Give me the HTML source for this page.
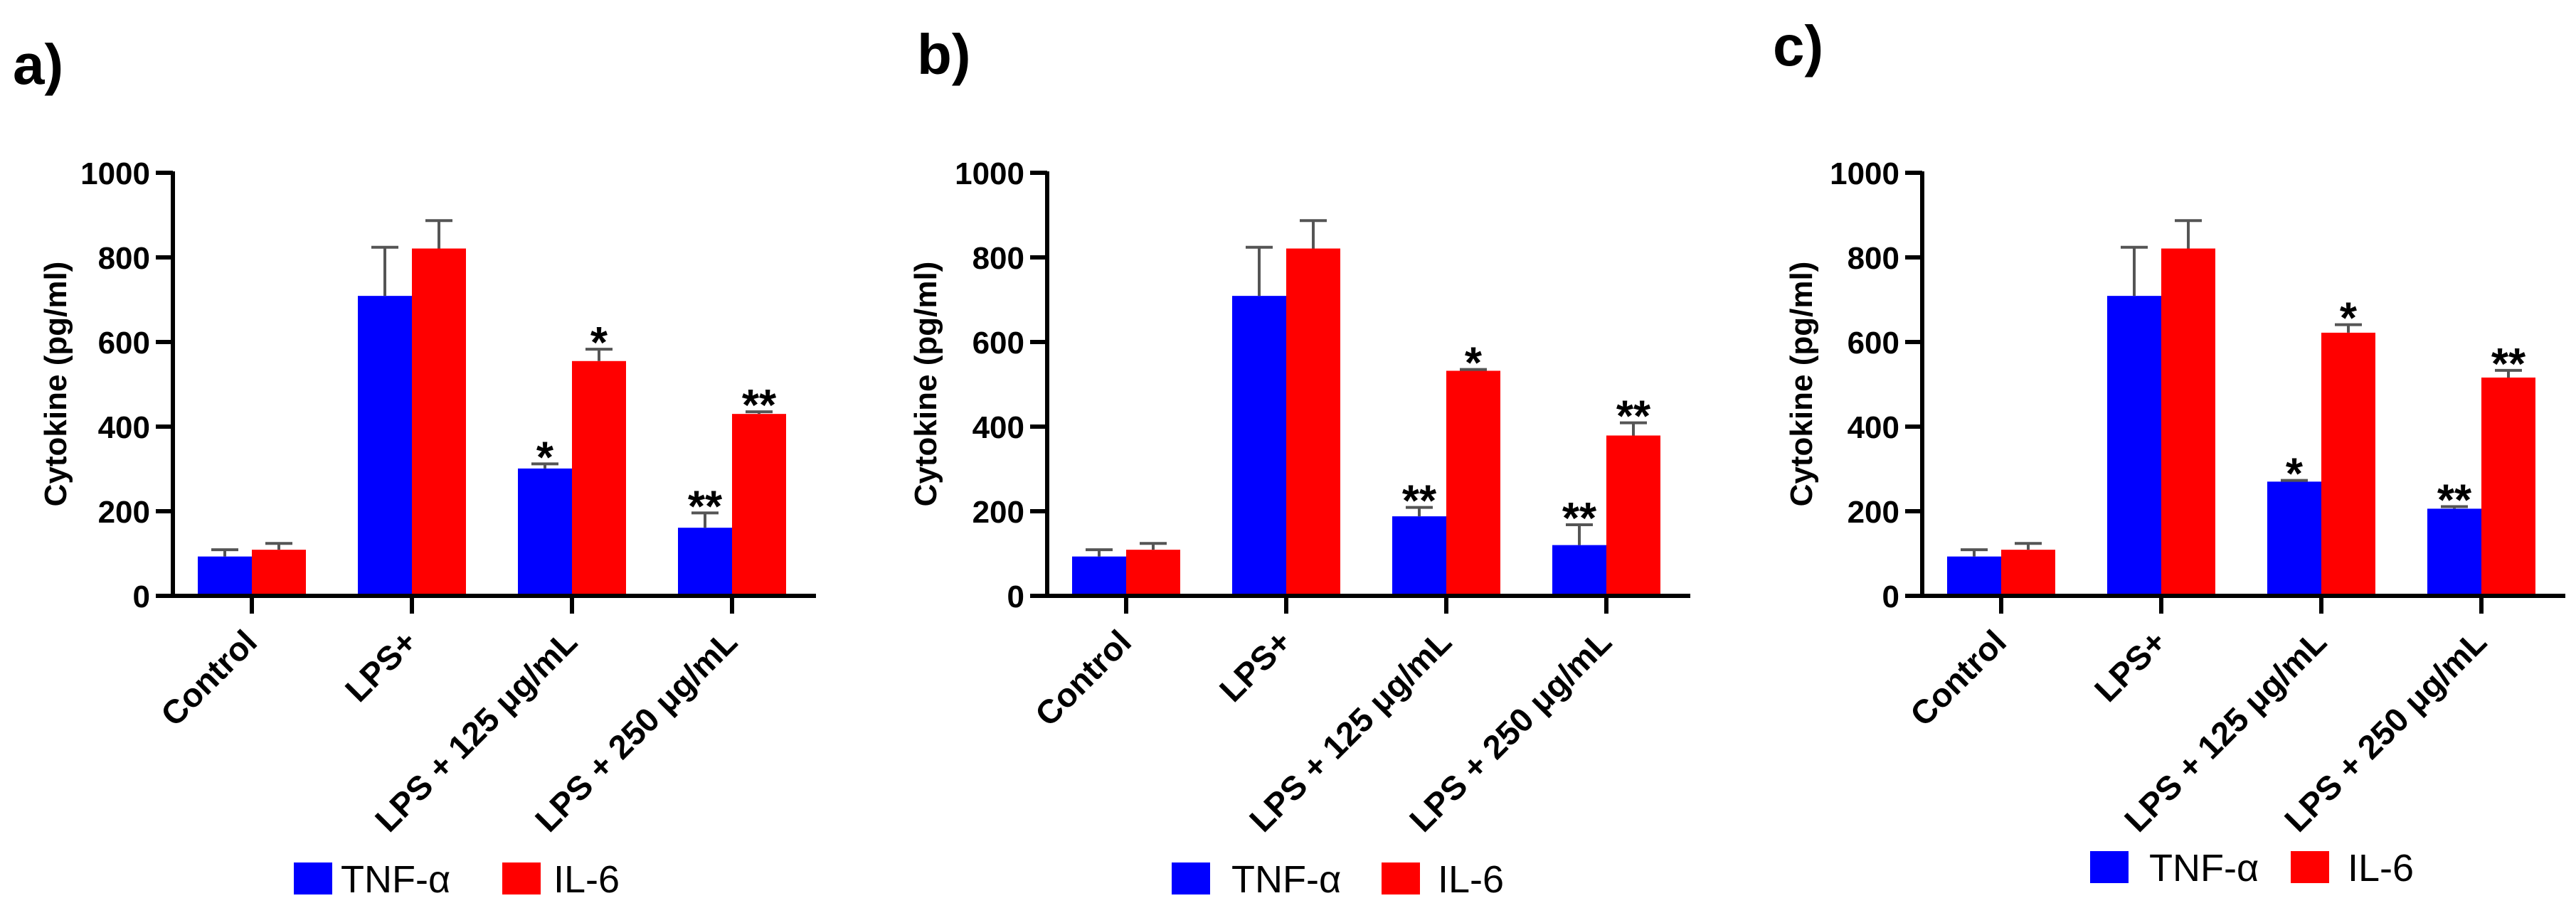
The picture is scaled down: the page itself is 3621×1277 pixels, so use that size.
<!DOCTYPE html>
<html><head><meta charset="utf-8">
<style>
html,body{margin:0;padding:0;background:#fff;}
svg{display:block;font-family:"Liberation Sans",Arial,sans-serif;}
</style></head>
<body>
<svg id="fig" width="3621" height="1277" viewBox="0 0 3621 1277" xmlns="http://www.w3.org/2000/svg"></svg>
<script>
const categories = ["Control", "LPS+", "LPS + 125 \u03bcg/mL", "LPS + 250 \u03bcg/mL"];
const yTicks = [0, 200, 400, 600, 800, 1000];
const panelLabels = ["a)", "b)", "c)"];
const tnfA = [93, 709, 301, 161];
const tnfAErr = [109, 824, 312, 196];
const il6A = [109, 821, 555, 430];
const il6AErr = [124, 887, 583, 435];
const tnfB = [93, 709, 188, 120];
const tnfBErr = [109, 824, 209, 168];
const il6B = [109, 821, 532, 379];
const il6BErr = [124, 887, 535, 409];
const tnfC = [93, 709, 270, 206];
const tnfCErr = [109, 824, 273, 211];
const il6C = [109, 821, 622, 516];
const il6CErr = [124, 887, 641, 533];
const sigTnfA = ["", "", "*", "**"], sigIl6A = ["", "", "*", "**"];
const sigTnfB = ["", "", "**", "**"], sigIl6B = ["", "", "*", "**"];
const sigTnfC = ["", "", "*", "**"], sigIl6C = ["", "", "*", "**"];

const panels = [
  {tnf: tnfA, tnfE: tnfAErr, il6: il6A, il6E: il6AErr, st: sigTnfA, si: sigIl6A, ax: 243, lx: 18, ly: 118, tx: 78, leg: [413, 479, 706, 778], legY: 1213},
  {tnf: tnfB, tnfE: tnfBErr, il6: il6B, il6E: il6BErr, st: sigTnfB, si: sigIl6B, ax: 1472, lx: 1289, ly: 104, tx: 1301, leg: [1647, 1731, 1942, 2021], legY: 1213},
  {tnf: tnfC, tnfE: tnfCErr, il6: il6C, il6E: il6CErr, st: sigTnfC, si: sigIl6C, ax: 2702, lx: 2492, ly: 92, tx: 2532, leg: [2938, 3021, 3220, 3300], legY: 1197}
];
const NS = "http://www.w3.org/2000/svg";
const svg = document.getElementById("fig");
const Y0 = 838, Y1000 = 243;
function yS(v) { return Y0 - (v / 1000) * (Y0 - Y1000); }
function mk(tag, attrs, parent) {
  const e = document.createElementNS(NS, tag);
  for (const k in attrs) e.setAttribute(k, attrs[k]);
  (parent || svg).appendChild(e);
  return e;
}
const BW = 76, SP = 225;
panels.forEach((p, pi) => {
  const g = mk("g", {});
  
  
  const xS = i => p.ax + 111 + i * SP;
  const lab = mk("text", {x: p.lx, y: p.ly, "font-size": 80, "font-weight": "bold", fill: "#000"}, g);
  lab.textContent = panelLabels[pi];
  
  
  categories.forEach((c, i) => {
    const cx = xS(i);
    [[p.tnf, p.tnfE, p.st, "#0000ff", cx - BW, "tnf"], [p.il6, p.il6E, p.si, "#ff0000", cx, "il6"]].forEach(s => {
      const v = s[0][i], e = s[1][i], x0 = s[4];
      const r = mk("rect", {x: x0, y: yS(v), width: BW, height: Y0 - yS(v), fill: s[3]}, g);
      
      
      const mx = x0 + BW / 2;
      const el = mk("path", {d: `M${mx},${yS(v)}V${yS(e)}M${mx - 19},${yS(e)}H${mx + 19}`, stroke: "#555", "stroke-width": 4, fill: "none"}, g);
      
      
      if (s[2][i]) {
        const t = mk("text", {x: mx, y: yS(e) + 12, "text-anchor": "middle", "font-size": 62, "font-weight": "bold", fill: "#000"}, g);
        t.textContent = s[2][i];
        
        
      }
    });
    const tk = mk("line", {x1: cx, y1: Y0, x2: cx, y2: Y0 + 25, stroke: "#000", "stroke-width": 6}, g);
    
    
    const lx = cx + 10, ly = Y0 + 68;
    const tl = mk("text", {x: lx, y: ly, "text-anchor": "end", "font-size": 47, "font-weight": "bold", fill: "#000", transform: `rotate(-45 ${lx} ${ly})`}, g);
    tl.textContent = c;
    
    
  });
  const yax = mk("line", {x1: p.ax, y1: Y1000 - 2, x2: p.ax, y2: Y0 + 3, stroke: "#000", "stroke-width": 6}, g);
  
  
  const xax = mk("line", {x1: p.ax - 24, y1: Y0, x2: p.ax + 904, y2: Y0, stroke: "#000", "stroke-width": 6}, g);
  
  
  yTicks.forEach(v => {
    const t = mk("line", {x1: p.ax - 24, y1: yS(v), x2: p.ax, y2: yS(v), stroke: "#000", "stroke-width": 6}, g);
    
    
    const l = mk("text", {x: p.ax - 32, y: yS(v) + 16, "text-anchor": "end", "font-size": 44, "font-weight": "bold", fill: "#000"}, g);
    l.textContent = v;
    
    
  });
  const yt = mk("text", {x: p.tx, y: 540, "text-anchor": "middle", "font-size": 44, "font-weight": "bold", fill: "#000", transform: `rotate(-90 ${p.tx} 540)`, dy: 15}, g);
  yt.textContent = "Cytokine (pg/ml)";
  
  
  const b1 = mk("rect", {x: p.leg[0], y: p.legY, width: 54, height: 45, fill: "#0000ff"}, g);
  
  
  const t1 = mk("text", {x: p.leg[1], y: p.legY + 42, "font-size": 54, fill: "#000"}, g);
  t1.textContent = "TNF-\u03b1";
  
  
  const b2 = mk("rect", {x: p.leg[2], y: p.legY, width: 54, height: 45, fill: "#ff0000"}, g);
  
  
  const t2 = mk("text", {x: p.leg[3], y: p.legY + 42, "font-size": 54, fill: "#000"}, g);
  t2.textContent = "IL-6";
  
  
});
</script>
</body></html>
